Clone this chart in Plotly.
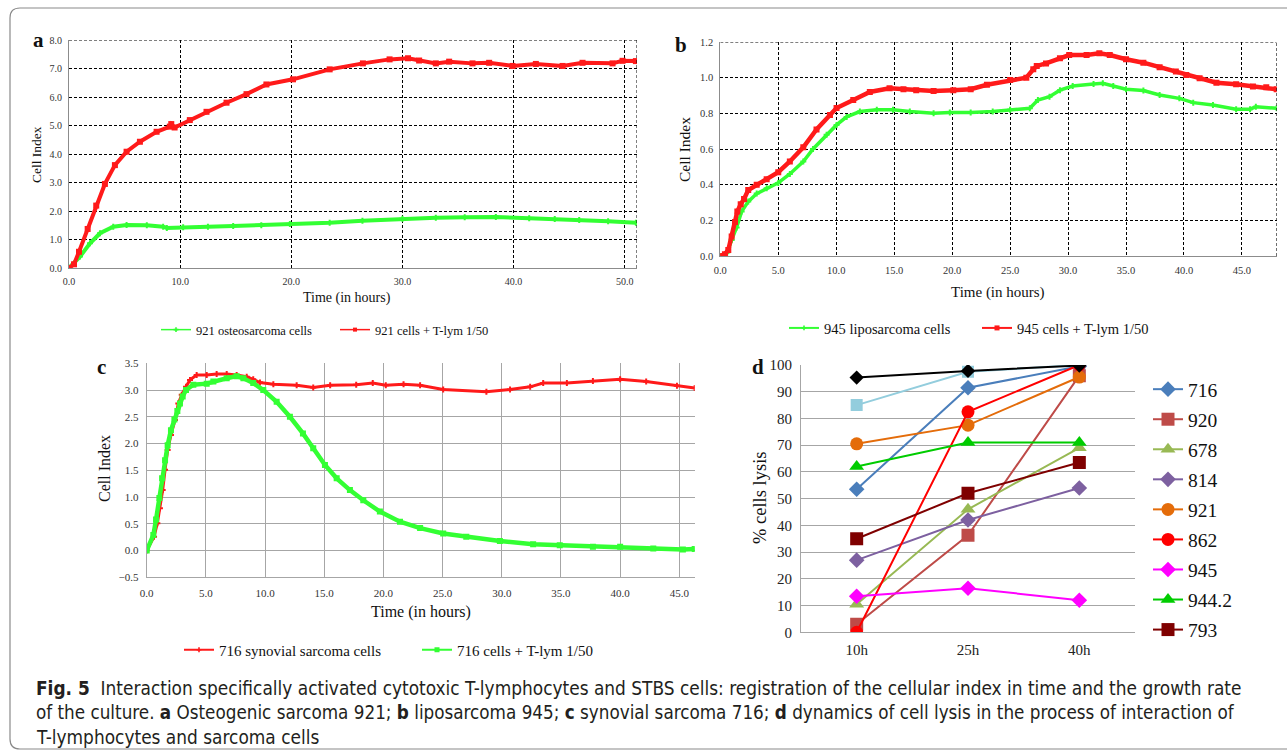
import plotly.graph_objects as go

# ---------------- Panel a : osteosarcoma 921 ----------------
a_t_cells = [0, 0.99, 1.89, 2.79, 3.98, 5.18, 7.0, 8.47, 8.8, 10.27, 12.5, 14.77, 17.3, 19.87, 23.45,
             26.4, 30.0, 33.0, 35.6, 38.4, 41.4, 43.7, 45.9, 48.5, 51.0]
a_ci_cells = [0, 0.40, 0.87, 1.22, 1.45, 1.51, 1.50, 1.45, 1.40, 1.43, 1.45, 1.47, 1.50, 1.54, 1.59,
              1.66, 1.73, 1.76, 1.78, 1.79, 1.75, 1.72, 1.68, 1.64, 1.59]
a_t_tlym = [0, 0.45, 0.9, 1.68, 2.45, 3.23, 4.13, 5.18, 6.38, 7.88, 9.07, 9.2, 9.5, 10.87, 12.37, 14.17,
            15.97, 17.76, 20.15, 23.45, 26.44, 28.84, 30.5, 31.5, 33.0, 34.2, 36.3, 37.8, 39.9, 42.0,
            44.4, 46.2, 48.9, 49.8, 51.0]
a_ci_tlym = [0, 0.13, 0.57, 1.37, 2.19, 2.95, 3.61, 4.08, 4.43, 4.78, 4.96, 5.05, 4.93, 5.19, 5.48, 5.80,
             6.10, 6.44, 6.62, 6.97, 7.18, 7.32, 7.36, 7.28, 7.18, 7.24, 7.18, 7.20, 7.09, 7.16,
             7.09, 7.20, 7.18, 7.27, 7.26]

# ---------------- Panel b : liposarcoma 945 ----------------
b_t_cells = [0, 0.6, 0.98, 1.41, 1.84, 2.41, 3.14, 4.0, 5.0, 6.0, 7.16, 8.0, 9.17, 10.03, 10.9, 12.04,
             13.5, 14.9, 16.35, 18.4, 19.8, 21.6, 23.5, 25.0, 26.7, 27.4, 28.4, 29.3, 30.4, 32.2,
             33.0, 33.9, 35.0, 36.5, 37.9, 39.6, 40.8, 42.5, 44.5, 45.7, 46.2, 48.0]
b_ci_cells = [0, 0.02, 0.09, 0.16, 0.25, 0.305, 0.35, 0.38, 0.41, 0.46, 0.53, 0.60, 0.68, 0.735, 0.78, 0.81,
              0.82, 0.82, 0.81, 0.80, 0.805, 0.805, 0.81, 0.82, 0.828, 0.875, 0.893, 0.93, 0.953, 0.965,
              0.968, 0.953, 0.935, 0.928, 0.903, 0.884, 0.86, 0.847, 0.823, 0.823, 0.837, 0.828]
b_t_tlym = [0, 0.4, 0.69, 0.98, 1.27, 1.47, 1.76, 2.05, 2.41, 3.14, 4.0, 5.0, 6.0, 7.16, 8.3, 9.46,
            10.03, 11.47, 12.9, 14.6, 15.8, 16.9, 18.4, 20.1, 21.6, 23.0, 25.0, 26.4, 27.0, 27.3,
            28.1, 29.3, 30.1, 31.6, 32.7, 33.6, 35.0, 36.5, 37.9, 39.3, 40.2, 41.35, 42.8, 44.5,
            45.95, 47.1, 48.0]
b_ci_tlym = [0, 0.01, 0.034, 0.11, 0.19, 0.25, 0.29, 0.32, 0.37, 0.40, 0.43, 0.47, 0.53, 0.61, 0.71, 0.79,
             0.83, 0.875, 0.92, 0.94, 0.935, 0.93, 0.925, 0.93, 0.935, 0.96, 0.987, 1.0, 1.047, 1.066,
             1.08, 1.109, 1.127, 1.127, 1.137, 1.127, 1.103, 1.084, 1.058, 1.034, 1.015, 0.997, 0.972, 0.963,
             0.95, 0.946, 0.935]

# ---------------- Panel c : synovial sarcoma 716 ----------------
c_t_cells = [0, 0.62, 0.9, 1.12, 1.35, 1.55, 1.77, 2.05, 2.39, 2.67, 2.96, 3.32, 3.66, 4.22, 5.07, 5.91,
             6.76, 7.6, 8.45, 9.0, 9.57, 10.7, 12.67, 14.07, 15.5, 17.7, 19.1, 20.2, 21.7, 23.1, 25.05,
             28.7, 30.7, 32.4, 33.5, 35.5, 37.7, 40.0, 42.2, 44.8, 46.3]
c_ci_cells = [0, 0.26, 0.51, 0.79, 1.13, 1.51, 1.88, 2.16, 2.44, 2.75, 2.91, 3.06, 3.19, 3.28, 3.28, 3.30,
              3.30, 3.28, 3.25, 3.20, 3.14, 3.11, 3.09, 3.05, 3.09, 3.10, 3.13, 3.09, 3.11, 3.09, 3.01,
              2.97, 3.01, 3.06, 3.13, 3.13, 3.17, 3.20, 3.16, 3.08, 3.04]
c_t_tlym = [0, 0.56, 0.79, 1.07, 1.3, 1.55, 1.77, 2.05, 2.34, 2.59, 2.81, 3.04, 3.32, 3.94, 5.07, 5.63,
            6.76, 7.6, 8.17, 9.0, 9.85, 10.98, 12.1, 13.2, 14.07, 15.06, 16.05, 17.17, 18.3, 19.7,
            21.4, 23.1, 25.05, 27.0, 29.84, 32.65, 34.9, 37.7, 40.0, 42.8, 45.3, 46.3]
c_ci_tlym = [0, 0.29, 0.58, 0.98, 1.35, 1.69, 1.97, 2.25, 2.45, 2.61, 2.75, 2.88, 3.0, 3.10, 3.12, 3.16,
             3.22, 3.26, 3.22, 3.13, 3.0, 2.78, 2.5, 2.19, 1.91, 1.6, 1.35, 1.13, 0.94, 0.73,
             0.54, 0.42, 0.32, 0.26, 0.18, 0.12, 0.10, 0.07, 0.07, 0.04, 0.02, 0.03]

# ---------------- Panel d : % cells lysis ----------------
d_categories = ["10h", "25h", "40h"]
d_names = ["716", "920", "678", "814", "921", "862", "945", "944.2", "793"]
d_values = {
    "716": [53.5, 91.5, 99.5],
    "920": [3.0, 36.3, 96.0],
    "678": [10.5, 46.0, 69.0],
    "814": [27.0, 42.0, 54.0],
    "921": [70.5, 77.5, 95.5],
    "862": [0.0, 82.5, 100.0],
    "945": [13.5, 16.5, 12.0],
    "944.2": [62.0, 71.0, 71.0],
    "793": [35.0, 52.0, 63.5],
}
d_unlisted_black = [95.3, 97.8, 99.8]
d_unlisted_lightblue = [85.0, 97.5, 100.0]

d_colors = {"716": "#4A7EBB", "920": "#BE4B48", "678": "#98B954", "814": "#7D60A0", "921": "#E46C0A",
            "862": "#FF0000", "945": "#FF00FF", "944.2": "#00CC00", "793": "#7F0000"}
d_symbols = {"716": "diamond", "920": "square", "678": "triangle-up", "814": "diamond", "921": "circle",
             "862": "circle", "945": "diamond", "944.2": "triangle-up", "793": "square"}

RED = "#FF1A1A"
GREEN = "#33FF33"
SERIF = "Liberation Serif, Times New Roman, serif"
W, H = 1287, 754


def px(x):
    return x / W


def py(y):
    return 1 - y / H


fig = go.Figure()

# panel a
fig.add_trace(go.Scatter(x=a_t_cells, y=a_ci_cells, mode="lines+markers", xaxis="x", yaxis="y",
                         line=dict(color=GREEN, width=4), marker=dict(symbol="cross", size=5, color=GREEN),
                         showlegend=False))
fig.add_trace(go.Scatter(x=a_t_tlym, y=a_ci_tlym, mode="lines+markers", xaxis="x", yaxis="y",
                         line=dict(color=RED, width=4), marker=dict(symbol="square", size=6, color=RED),
                         showlegend=False))
fig.add_trace(go.Scatter(x=[None], y=[None], mode="lines+markers", xaxis="x", yaxis="y", name="921 osteosarcoma cells",
                         line=dict(color=GREEN, width=1.5), marker=dict(symbol="cross", size=4, color=GREEN),
                         legend="legend"))
fig.add_trace(go.Scatter(x=[None], y=[None], mode="lines+markers", xaxis="x", yaxis="y", name="921 cells + T-lym 1/50",
                         line=dict(color=RED, width=1.5), marker=dict(symbol="square", size=4, color=RED),
                         legend="legend"))

# panel b
fig.add_trace(go.Scatter(x=b_t_cells, y=b_ci_cells, mode="lines+markers", xaxis="x2", yaxis="y2",
                         line=dict(color=GREEN, width=3.5), marker=dict(symbol="cross", size=5, color=GREEN),
                         showlegend=False))
fig.add_trace(go.Scatter(x=b_t_tlym, y=b_ci_tlym, mode="lines+markers", xaxis="x2", yaxis="y2",
                         line=dict(color=RED, width=4.5), marker=dict(symbol="square", size=6, color=RED),
                         showlegend=False))
fig.add_trace(go.Scatter(x=[None], y=[None], mode="lines+markers", xaxis="x2", yaxis="y2", name="945 liposarcoma cells",
                         line=dict(color=GREEN, width=2), marker=dict(symbol="cross", size=4, color=GREEN),
                         legend="legend2"))
fig.add_trace(go.Scatter(x=[None], y=[None], mode="lines+markers", xaxis="x2", yaxis="y2", name="945 cells + T-lym 1/50",
                         line=dict(color=RED, width=2), marker=dict(symbol="square", size=5, color=RED),
                         legend="legend2"))

# panel c
fig.add_trace(go.Scatter(x=c_t_cells, y=c_ci_cells, mode="lines+markers", xaxis="x3", yaxis="y3",
                         line=dict(color=RED, width=3), marker=dict(symbol="cross", size=5, color=RED),
                         showlegend=False))
fig.add_trace(go.Scatter(x=c_t_tlym, y=c_ci_tlym, mode="lines+markers", xaxis="x3", yaxis="y3",
                         line=dict(color=GREEN, width=4.5), marker=dict(symbol="square", size=6, color=GREEN),
                         showlegend=False))
fig.add_trace(go.Scatter(x=[None], y=[None], mode="lines+markers", xaxis="x3", yaxis="y3", name="716 synovial sarcoma cells",
                         line=dict(color=RED, width=2), marker=dict(symbol="cross", size=4, color=RED),
                         legend="legend3"))
fig.add_trace(go.Scatter(x=[None], y=[None], mode="lines+markers", xaxis="x3", yaxis="y3", name="716 cells + T-lym 1/50",
                         line=dict(color=GREEN, width=2), marker=dict(symbol="square", size=5, color=GREEN),
                         legend="legend3"))

# panel d
fig.add_trace(go.Scatter(x=d_categories, y=d_unlisted_lightblue, mode="lines+markers", xaxis="x4", yaxis="y4",
                         line=dict(color="#93CDDD", width=2), marker=dict(symbol="square", size=12, color="#93CDDD"),
                         showlegend=False))
for i, nm in enumerate(d_names):
    fig.add_trace(go.Scatter(x=d_categories, y=d_values[nm], mode="lines+markers", xaxis="x4", yaxis="y4",
                             name=nm, legend="legend4", legendgroup=nm,
                             line=dict(color=d_colors[nm], width=2),
                             marker=dict(symbol=d_symbols[nm], size=13 if d_symbols[nm] != "diamond" else 12,
                                         color=d_colors[nm])))
fig.add_trace(go.Scatter(x=d_categories, y=d_unlisted_black, mode="lines+markers", xaxis="x4", yaxis="y4",
                         line=dict(color="#000000", width=2), marker=dict(symbol="diamond", size=11, color="#000000"),
                         showlegend=False))

tick_common = dict(ticks="", zeroline=False, showline=True, automargin=False)

DASH = "3px,2px"
dash_grid = dict(showgrid=True, gridcolor="#000000", griddash=DASH, gridwidth=1)
solid_grid = dict(showgrid=True, gridcolor="#A6A6A6", gridwidth=1.3)

layout = dict(
    template="none",
    width=W, height=H, autosize=False, margin=dict(l=0, r=0, t=0, b=0, pad=0, autoexpand=False),
    paper_bgcolor="white", plot_bgcolor="white",
    xaxis=dict(domain=[px(69), px(637)], range=[0, 51.1], dtick=10, tick0=0, tickformat=".1f",
               anchor="y", linecolor="#8C8C8C", tickfont=dict(family=SERIF, size=10, color="#333"),
               ticklabelstandoff=4, **dash_grid, **tick_common),
    yaxis=dict(domain=[py(268), py(40)], range=[0, 8], dtick=1, tickformat=".1f",
               anchor="x", linecolor="#8C8C8C", tickfont=dict(family=SERIF, size=10, color="#333"),
               ticklabelstandoff=4, **dash_grid, **tick_common),
    xaxis2=dict(domain=[px(720.3), px(1276.7)], range=[0, 48], dtick=5, tick0=0, tickformat=".1f",
                anchor="y2", linecolor="#8C8C8C", tickfont=dict(family=SERIF, size=10.5, color="#333"),
                ticklabelstandoff=4, **dash_grid, **tick_common),
    yaxis2=dict(domain=[py(256), py(42)], range=[0, 1.2], dtick=0.2, tickformat=".1f",
                anchor="x2", linecolor="#8C8C8C", tickfont=dict(family=SERIF, size=10.5, color="#333"),
                ticklabelstandoff=4, **dash_grid, **tick_common),
    xaxis3=dict(domain=[px(146.7), px(694.7)], range=[0, 46.3], dtick=5, tick0=0, tickformat=".1f",
                anchor="y3", linecolor="#A6A6A6", tickfont=dict(family=SERIF, size=11, color="#333"),
                ticklabelstandoff=5, **solid_grid, **tick_common),
    yaxis3=dict(domain=[py(577.3), py(363.3)], range=[-0.5, 3.5], dtick=0.5, tickformat=".1f",
                anchor="x3", linecolor="#A6A6A6", tickfont=dict(family=SERIF, size=11, color="#333"),
                ticklabelstandoff=5, **solid_grid, **tick_common),
    xaxis4=dict(domain=[px(801), px(1135)], range=[-0.5, 2.5], type="category",
                anchor="y4", linecolor="#A6A6A6", showgrid=False,
                tickfont=dict(family=SERIF, size=15, color="#222"), ticklabelstandoff=4, **tick_common),
    yaxis4=dict(domain=[py(632.3), py(365)], range=[0, 100], dtick=10,
                anchor="x4", linecolor="#A6A6A6", tickfont=dict(family=SERIF, size=15, color="#222"),
                ticklabelstandoff=5, **solid_grid, **tick_common),
    legend=dict(orientation="h", x=px(156), y=py(330), xanchor="left", yanchor="middle",
                font=dict(family=SERIF, size=12.5, color="#111"), itemwidth=30,
                entrywidth=134, entrywidthmode="pixels", bgcolor="rgba(0,0,0,0)"),
    legend2=dict(orientation="h", x=px(784), y=py(328), xanchor="left", yanchor="middle",
                 font=dict(family=SERIF, size=14.5, color="#111"), itemwidth=30,
                 entrywidth=148, entrywidthmode="pixels", bgcolor="rgba(0,0,0,0)"),
    legend3=dict(orientation="h", x=px(179), y=py(650), xanchor="left", yanchor="middle",
                 font=dict(family=SERIF, size=15, color="#111"), itemwidth=30,
                 entrywidth=193, entrywidthmode="pixels", bgcolor="rgba(0,0,0,0)"),
    legend4=dict(orientation="v", x=px(1148), y=py(370), xanchor="left", yanchor="top",
                 font=dict(family=SERIF, size=19.5, color="#111"), itemwidth=30,
                 tracegroupgap=1.7, bgcolor="rgba(0,0,0,0)"),
)
fig.update_layout(**layout)

shapes = [
    dict(type="line", xref="x", yref="y", x0=51.1, x1=51.1, y0=0, y1=8,
         line=dict(color="#000", width=1, dash=DASH)),
    dict(type="line", xref="x", yref="y", x0=0, x1=51.1, y0=8, y1=8,
         line=dict(color="#000", width=1, dash=DASH)),
    dict(type="line", xref="x2", yref="y2", x0=48, x1=48, y0=0, y1=1.2,
         line=dict(color="#000", width=1, dash=DASH)),
    dict(type="line", xref="x2", yref="y2", x0=0, x1=48, y0=1.2, y1=1.2,
         line=dict(color="#000", width=1, dash=DASH)),
]
x0, x1, y0, y1, r = px(10), px(1300), py(749), py(8), 10
rx, ry = r / W, r / H
frame_path = (f"M {x0},{y1 - ry} Q {x0},{y1} {x0 + rx},{y1} L {x1},{y1} L {x1},{y0} "
              f"L {x0 + rx},{y0} Q {x0},{y0} {x0},{y0 + ry} Z")
shapes.append(dict(type="path", xref="paper", yref="paper", path=frame_path,
                   line=dict(color="#8A8A8A", width=1.2)))
fig.update_layout(shapes=shapes)

ann = []


def text(x, y, s, size, angle=0, bold=False, family=SERIF, xanchor="center", color="#111"):
    ann.append(dict(x=px(x), y=py(y), xref="paper", yref="paper", text=f"<b>{s}</b>" if bold else s,
                    showarrow=False, textangle=angle, xanchor=xanchor, yanchor="middle",
                    font=dict(family=family, size=size, color=color)))


text(38, 40, "a", 21, bold=True)
text(681, 45, "b", 21, bold=True)
text(101, 367, "c", 21, bold=True)
text(758, 367, "d", 21, bold=True)

text(36, 155, "Cell Index", 13.5, angle=-90)
text(347, 298, "Time (in hours)", 14)
text(685, 150, "Cell Index", 15.5, angle=-90)
text(998, 292, "Time (in hours)", 15)
text(104, 469, "Cell Index", 16, angle=-90)
text(421, 612, "Time (in hours)", 16)
text(760, 497, "% cells lysis", 18.5, angle=-90)

CAP = "DejaVu Sans Condensed, Liberation Sans Narrow, sans-serif"
text(34, 688, "<b>Fig. 5</b>  Interaction specifically activated cytotoxic T-lymphocytes and STBS cells: registration of the cellular index in time and the growth rate",
     18.9, family=CAP, xanchor="left", color="#231F20")
text(34, 712, "of the culture. <b>a</b> Osteogenic sarcoma 921; <b>b</b> liposarcoma 945; <b>c</b> synovial sarcoma 716; <b>d</b> dynamics of cell lysis in the process of interaction of",
     18.7, family=CAP, xanchor="left", color="#231F20")
text(34, 737, "T-lymphocytes and sarcoma cells", 18.9, family=CAP, xanchor="left", color="#231F20")

fig.update_layout(annotations=ann)

fig.write_html("out.html", config={"displayModeBar": False},
               post_script="document.body.style.margin='0px';document.body.style.padding='0px';")
